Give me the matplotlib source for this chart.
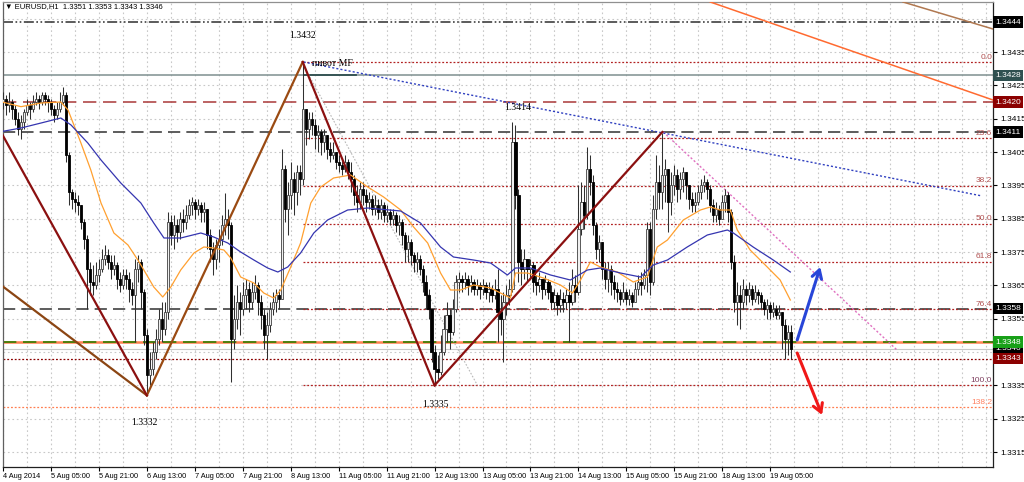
import numpy as np
import matplotlib
matplotlib.use("Agg")
import matplotlib.pyplot as plt
from matplotlib.transforms import blended_transform_factory

# ------------------------------------------------------------------ data
# prices are stored as pips above BASE (1.3300)
BASE = 1.3300
bar_start = 13          # trading-hour bar index counted from 4 Aug 2014 00:00

opens_p = [
    120,121,119,120,118,115,112,114,117,119,
    118,120,121,120,122,121,120,118,116,118,
    120,122,104,93,91,90,89,84,79,70,
    66,65,68,70,73,74,72,70,71,67,
    65,68,67,64,62,70,72,63,50,38,
    40,45,49,55,52,57,84,80,83,81,
    85,84,86,89,90,88,89,87,88,80,
    76,73,77,79,83,85,83,49,55,60,
    58,62,64,60,63,65,60,56,50,53,
    58,60,62,61,100,88,92,97,93,99,
    97,118,112,115,113,110,111,108,110,106,
    104,105,102,101,100,102,99,97,92,90,
    94,92,90,91,88,89,87,89,86,87,
    85,86,83,84,80,76,78,74,72,73,
    70,66,62,58,45,40,39,45,52,56,
    51,58,66,67,66,67,65,66,64,65,
    64,65,63,64,62,64,57,55,60,62,
    64,108,92,72,70,73,70,71,66,65,
    67,64,66,63,60,62,59,61,60,62,
    60,65,63,82,90,86,100,96,83,76,
    78,70,67,70,66,64,63,61,63,61,
    62,60,64,66,65,68,82,66,88,96,
    93,98,100,90,95,98,94,97,99,95,
    91,89,90,93,95,96,94,89,86,88,
    85,90,92,87,72,60,62,60,64,62,
    64,61,63,62,60,58,59,57,58,56,
    57,53,49,51]
highs_p = [
    123,122,123,121,119,117,116,118,121,120,
    122,123,122,123,123,122,121,119,120,123,
    124.5,123,105,94,93,92,89,85,80,72,
    71,72,73,76,77,76,74,74,72,69,
    70,70,69,66,73,74,73,64,52,45,
    48,52,58,60,60,87,86,86,85,87,
    88,89,91,91.5,91,91,90,90,88,82,
    78,79,82,86,92.7,88,84,62,65,63,
    66,67,66,66,68,66,62,58,57,60,
    63,64,64,106,101,96,102,99,101,101,
    132,118,117,117,115,113,112,112,110,108,
    108,105,104,103,104,103,102,98,95,96,
    96,94,93,92,92,91,91,90,89,88,
    88,87,86,85,81,80,79,75,75,74,
    71,68,64,58,47,44,50,56,60,58,
    61,68,69,68,69,68,68,67,67,66,
    67,66,66,65,67,70,62,63,65,67,
    114,113,94,76,76,73,73,72,68,69,
    67,68,67,65,64,63,64,63,64,66,
    70,68,95,96,95,106.5,104,98,84,80,
    78,72,72,71,68,66,64,66,64,64,
    63,66,68,69,70,84,84,92,104,101,
    110.7,103,100,99,101,100,99,100.5,99,95,
    93,93,95,97,98,97,95,91,90,89,
    92,94,93,88,74,66,65,67,65,66,
    65,65,64,63,61,61,60,60,59,59,
    57,55,53,53]
lows_p = [
    118,116,117,115,113,110,109,112,116,115,
    117,119,118,119,119,117,116,114,115,117,
    119,102,89,88,87,86,82,76,58,62,
    62,64,66,69,71,70,67,68,64,63,
    64,64,60,59,48,66,58,47,32,35,
    38,43,47,48,50,55,77,76,78,79,
    81,82,85,86,85,86,84,84,76,72,
    68,70,72,77,80,79,36,46,52,50,
    56,58,57,58,61,56,52,46,43,51,
    56,57,58,61,84,80,88,86,89,92,
    95,107,109,110,106,105,104,105,103,102,
    103,100,99,98,99,97,93,89,87,88,
    89,87,88,86,86,85,85,84,84,83,
    83,81,80,77,72,72,71,69,69,68,
    63,58,55,42,35,37,38,44,48,46,
    50,57,63,63,64,62,63,62,62,61,
    62,61,60,60,61,48,50,42,56,59,
    63,88,66,65,67,66,67,63,62,63,
    61,62,61,58,58,56,57,57,58,48,
    59,60,62,80,82,85,92,80,73,72,
    67,64,63,62,61,60,59,60,59,59,
    58.5,60,62,62,64,63,62,65,85,88,
    88,90,81,86,92,90,91,93,91,88,
    87,87,89,91,93,91,87,84,84,83,
    85,87,84,70,57,53,52,58,59,60,
    59,60,59.5,58,56,55,55,55.5,55,55,
    46,43,44,43]
closes_p = [
    121,119,120,118,115,112,114,117,119,118,
    120,121,120,122,121,120,118,116,118,120,
    122,104,93,91,90,89,84,79,70,66,
    65,68,70,73,74,72,70,71,67,65,
    68,67,64,62,70,72,63,50,38,40,
    45,49,55,52,57,84,80,83,81,85,
    84,86,89,90,88,89,87,88,80,76,
    73,77,79,83,85,83,49,55,60,58,
    62,64,60,63,65,60,56,50,53,58,
    60,62,61,100,88,92,97,93,99,97,
    118,112,115,113,110,111,108,110,106,104,
    105,102,101,100,102,99,97,92,90,94,
    92,90,91,88,89,87,89,86,87,85,
    86,83,84,80,76,78,74,72,73,70,
    66,62,58,45,40,39,45,52,56,51,
    58,66,67,66,67,65,66,64,65,64,
    65,63,64,62,64,57,55,60,62,64,
    108,92,72,70,73,70,71,66,65,67,
    64,66,63,60,62,59,61,60,62,60,
    65,63,82,90,86,100,96,83,76,78,
    70,67,70,66,64,63,61,63,61,62,
    60,64,66,65,68,82,66,88,96,93,
    98,100,90,95,98,94,97,99,95,91,
    89,90,93,95,96,94,89,86,88,85,
    90,92,87,72,60,62,60,64,62,64,
    61,63,62,60,58,59,57,58,56,57,
    53,49,51,46]

# moving averages (bar index, pips)
fast_ma_t = [12.3,19,25.7,32.3,34.7,39,42.3,45.7,50,54.7,58,60,63.3,66.3,69,72.3,76.7,80,
             83.3,86.7,89,92.3,96.7,100,103.3,105.7,109,112.3,115.7,119,123.3,129,134.7,
             140,145.7,150,154.7,159,162.3,165.7,170,175.7,179,182.3,184,188,193.3,199,
             203,205.7,209,212.3,218,223.3,228,231.3,234.7,240,245.7,249,252.3,255.7,258,
             262.3,268,272.3,275.7]
fast_ma_p = [120.1,118.6,119.7,120,117.6,107.7,99.6,89.7,80.7,77.1,72.6,69.6,64.5,61.5,64.5,
             69.6,74.7,76.5,76.2,75.6,73.2,67.5,65.7,62.7,61.2,63.6,70.5,77.7,89.7,94.5,
             97.2,98.1,94.5,91.5,87.6,82.5,77.7,68.7,63.6,63.6,65.1,64.2,62.7,61.2,68.7,
             68.7,67.2,65.1,62.7,66.6,72,70.5,69,66,67.5,76.5,78.6,84.6,87.6,88.5,87.6,
             87.6,81.6,75.6,70.5,66.6,60.6]
slow_ma_t = [12.3,19,25.7,32.3,35.7,41.3,45.7,52.3,59,63.3,66.7,72.3,79,83.3,88,92.3,96.7,
             101.3,104.7,108,112.3,116.7,121.3,128,134.7,145.7,152.3,159,163.3,170,175.7,
             181.3,184,189,195.7,202.3,208,212.3,219,225.7,230,234.7,241.3,248,254.7,
             256.7,263.3,270,275.7]
slow_ma_p = [111.1,112.2,113.7,115.2,113.1,107.7,102.6,95.7,89.7,83.7,79.2,79.2,80.7,79.5,
             77.7,75,72.6,70.2,69,70.5,74.7,80.7,84.6,87.6,88.2,87.3,83.7,76.5,73.5,72.6,
             71.7,68.1,70.2,70.2,68.1,66.6,69.6,70.2,68.7,67.5,71.1,72.6,76.5,80.1,81.6,
             80.7,76.5,72.6,69]

xtick_bars = [13, 29, 45, 61, 77, 93, 109, 125, 141, 157, 173, 189, 205, 221, 237, 253, 269]
xtick_labels = ["4 Aug 2014", "5 Aug 05:00", "5 Aug 21:00", "6 Aug 13:00", "7 Aug 05:00",
                "7 Aug 21:00", "8 Aug 13:00", "11 Aug 05:00", "11 Aug 21:00", "12 Aug 13:00",
                "13 Aug 05:00", "13 Aug 21:00", "14 Aug 13:00", "15 Aug 05:00", "15 Aug 21:00",
                "18 Aug 13:00", "19 Aug 05:00"]
ytick_prices = [1.3315, 1.3325, 1.3335, 1.3355, 1.3365, 1.3375, 1.3385, 1.3395,
                1.3405, 1.3415, 1.3425, 1.3435]
grid_prices = [1.3315, 1.3325, 1.3335, 1.3345, 1.3355, 1.3365, 1.3375, 1.3385, 1.3395,
               1.3405, 1.3415, 1.3425, 1.3435, 1.3445]

# zigzag swing points (bar, price)
swing_t = [61, 113, 157, 233]
swing_p = [1.3332, 1.3432, 1.3335, 1.3411]

# fibonacci retracement of the 1.3432 -> 1.3335 swing
fib_levels = [0.0, 23.6, 38.2, 50.0, 61.8, 76.4, 100.0]
ext_price = 1.33285
ext_label = "138.2"

header = "\u25BC EURUSD,H1  1.3351 1.3353 1.3343 1.3346"

# ------------------------------------------------------------------ figure
W, H = 1024, 482
fig = plt.figure(figsize=(W / 100, H / 100), dpi=100)
ax = fig.add_axes([3 / W, 15 / H, 990 / W, 465 / H])
ax.set_xlim(13.33, 343.33)
ax.set_ylim(1.33105, 1.3450)

SANS = ['Liberation Sans', 'DejaVu Sans']

for s in ax.spines.values():
    s.set_color('#202020')
    s.set_linewidth(0.9)
ax.spines['top'].set_color('#909090')
ax.spines['left'].set_color('#606060')

# grid
grid_kw = dict(color='#C8C8C8', lw=0.8, dashes=(1.5, 2.5), zorder=0)
for gp in grid_prices:
    ax.axhline(gp, **grid_kw)
for gb in range(13, 344, 8):
    ax.axvline(gb, **grid_kw)

# ticks
ax.yaxis.tick_right()
ax.set_yticks(ytick_prices)
ax.set_yticklabels([f"{v:.4f}" for v in ytick_prices], fontsize=6, family=SANS)
ax.tick_params(axis='y', direction='out', length=3, width=0.8, pad=2, colors='black')
ax.set_xticks(xtick_bars)
ax.set_xticklabels(xtick_labels, fontsize=5.3, family=SANS)
ax.tick_params(axis='x', direction='out', length=3, width=0.8, pad=1.2, colors='black')
for lab in ax.get_xticklabels():
    lab.set_horizontalalignment('left')

P = lambda v: BASE + np.asarray(v, float) / 10000.0

# horizontal levels (full width)
ax.axhline(1.3444, color='#404040', lw=1.2, dashes=(6, 1.5, 1, 1.5, 1, 1.5), zorder=2)
ax.axhline(1.3428, color='#7E9090', lw=1.1, zorder=2)
ax.axhline(1.3420, color='#B04848', lw=1.2, dashes=(8, 4), zorder=2)
ax.axhline(1.3411, color='#303030', lw=1.1, dashes=(8, 4), zorder=2)
ax.axhline(1.3358, color='#303030', lw=1.1, dashes=(8, 4), zorder=2)
ax.axhline(1.3348, color='#FF8050', lw=1.8, zorder=2)
ax.axhline(1.3348, color='#2E7D00', lw=1.2, dashes=(8, 4), zorder=2)
ax.axhline(1.3346, color='#C8C8C8', lw=0.8, zorder=2)
ax.axhline(1.3343, color='#8B0000', lw=0.9, dashes=(1.5, 1.5), zorder=2)
ax.axhline(ext_price, color='#FF7F50', lw=0.9, dashes=(1.5, 1.5), zorder=2)
ax.plot([113.3, 130.7], [1.3428, 1.3428], color='#2F4F4F', lw=1.3, zorder=2)

# fibonacci lines
fib_hi, fib_lo = swing_p[1], swing_p[2]
for lv in fib_levels:
    pr = fib_hi - (fib_hi - fib_lo) * lv / 100.0
    ax.plot([swing_t[1], 343.33], [pr, pr], color='#B22222', lw=0.9, dashes=(1.5, 1.5), zorder=2)
    col = '#804060' if lv == 100.0 else '#B05050'
    ax.text(343.0, pr + 0.00004, f"{lv:.1f}", color=col, fontsize=6, family=SANS,
            ha='right', va='bottom', zorder=5)
ax.text(343.0, ext_price + 0.00004, ext_label, color='#FF8060', fontsize=6, family=SANS,
        ha='right', va='bottom', zorder=5)

# trend / zigzag objects
ax.plot([12.3, swing_t[0]], [1.33651, swing_p[0]], color='#8B4513', lw=1.6, zorder=6)
ax.plot([swing_t[0], swing_t[1]], [swing_p[0], swing_p[1]], color='#9A4A12', lw=1.6, zorder=6)
ax.plot([12.3, swing_t[0]], [1.3411, swing_p[0]], color='#8B1010', lw=1.6, zorder=6)
ax.plot([swing_t[1], swing_t[2]], [swing_p[1], swing_p[2]], color='#8B1010', lw=1.6, zorder=6)
ax.plot([swing_t[2], swing_t[3]], [swing_p[2], swing_p[3]], color='#8B1010', lw=1.6, zorder=6)
ax.plot([113.3, 171.3], [1.3431, 1.3335], color='#B8B8B8', lw=0.8, dashes=(1.5, 1.5), zorder=3)
ax.plot([233.3, 311.3], [1.3411, 1.33456], color='#E070C0', lw=1.0, dashes=(1.5, 1.5), zorder=3)
ax.plot([113.3, 339.7], [1.3432, 1.33918], color='#3040C0', lw=1.0, dashes=(1.5, 1.5), zorder=3)
ax.plot([249.0, 343.33], [1.3450, 1.34206], color='#FF6A30', lw=1.1, zorder=3)
ax.plot([313.3, 343.33], [1.3450, 1.34419], color='#B07850', lw=1.1, zorder=3)

# candles
t = np.arange(bar_start, bar_start + len(closes_p))
O, Hh, L, C = P(opens_p), P(highs_p), P(lows_p), P(closes_p)
ax.vlines(t, L, Hh, color='#303030', lw=0.75, zorder=4)
up = C >= O
bottoms = np.minimum(O, C)
heights = np.maximum(np.abs(C - O), 0.00003)
ax.bar(t[up], heights[up], bottom=bottoms[up], width=0.72, facecolor='#F0F0F0',
       edgecolor='#404040', linewidth=0.6, zorder=4.1)
ax.bar(t[~up], heights[~up], bottom=bottoms[~up], width=0.72, facecolor='black',
       edgecolor='#000000', linewidth=0.6, zorder=4.1)

# moving averages
ax.plot(fast_ma_t, P(fast_ma_p), color='#FFA030', lw=0.9, zorder=5)
ax.plot(slow_ma_t, P(slow_ma_p), color='#3535B0', lw=0.9, zorder=5)

# arrows
ax.annotate('', xy=(285.7, 1.33705), xytext=(278.0, 1.33486),
            arrowprops=dict(arrowstyle='->,head_length=0.6,head_width=0.35', color='#2845D8',
                            lw=2.2, shrinkA=0, shrinkB=0), zorder=7)
ax.annotate('', xy=(286.3, 1.33261), xytext=(278.0, 1.33447),
            arrowprops=dict(arrowstyle='->,head_length=0.6,head_width=0.35', color='#F01818',
                            lw=2.2, shrinkA=0, shrinkB=0), zorder=7)

# swing annotations
SERIF = ['Liberation Serif', 'DejaVu Serif']
ax.annotate("1.3432", (swing_t[1], swing_p[1]), xytext=(0, 27), textcoords='offset pixels',
            ha='center', va='center', fontsize=7, family=SERIF, zorder=8)
ax.annotate("пивот MF", (swing_t[1], swing_p[1]), xytext=(9, -1), textcoords='offset pixels',
            ha='left', va='center', fontsize=7, family=SERIF, zorder=8)
ax.annotate("1.3414", (184.7, 1.3414), xytext=(0, 15), textcoords='offset pixels',
            ha='center', va='center', fontsize=7, family=SERIF, zorder=8)
ax.annotate("1.3335", (swing_t[2], swing_p[2]), xytext=(1, -19), textcoords='offset pixels',
            ha='center', va='center', fontsize=7, family=SERIF, zorder=8)
ax.annotate("1.3332", (swing_t[0], swing_p[0]), xytext=(-2, -27), textcoords='offset pixels',
            ha='center', va='center', fontsize=7, family=SERIF, zorder=8)

# price boxes on the right axis
btr = blended_transform_factory(ax.transAxes, ax.transData)
boxes = [(1.3444, '#000000'), (1.3428, '#2F5050'), (1.3420, '#8B0000'), (1.3411, '#000000'),
         (1.3358, '#000000'), (1.3346, '#000000'), (1.3348, '#18A018'), (1.3343, '#8B0000')]
for pr, col in boxes:
    ax.text(1.0025, pr, f"{pr:.4f}", transform=btr, ha='left', va='center', color='white',
            fontsize=6, family=SANS, clip_on=False, zorder=9,
            bbox=dict(boxstyle='square,pad=0.25', fc=col, ec='none'))

fig.text(5 / W, 1 - 7 / H, header, fontsize=5.5, family=SANS, ha='left', va='center')

fig.savefig('out.png', dpi=100)
